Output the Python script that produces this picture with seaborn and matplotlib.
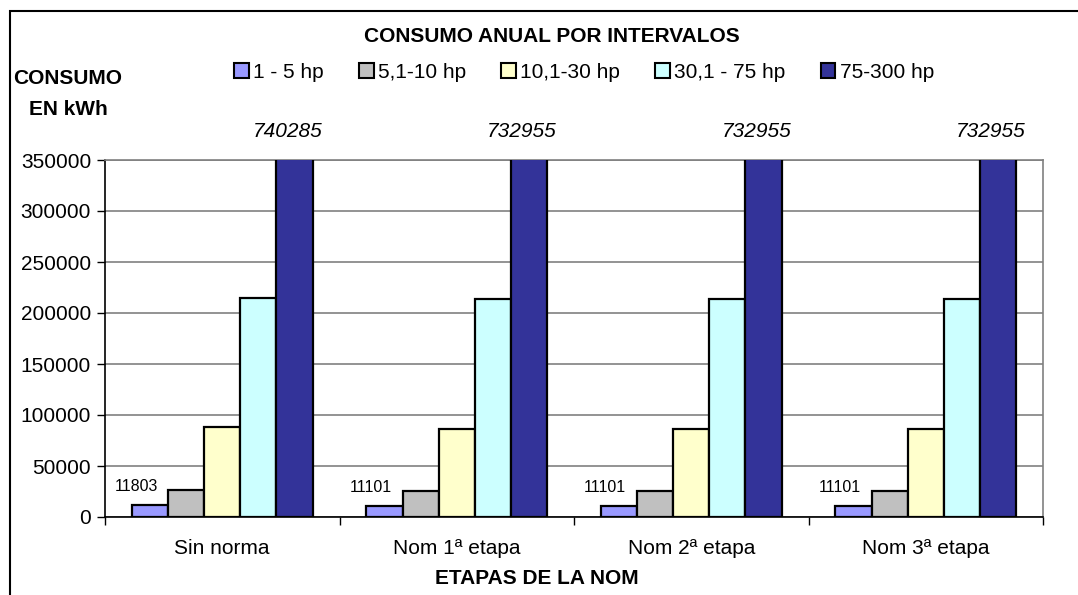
import matplotlib
matplotlib.use("Agg")
import matplotlib.pyplot as plt
from matplotlib.patches import Rectangle
import seaborn as sns
import pandas as pd

# Annual consumption (kWh) by motor power interval and NOM stage
etapas = ["Sin norma", "Nom 1ª etapa", "Nom 2ª etapa", "Nom 3ª etapa"]
intervalos = ["1 - 5 hp", "5,1-10 hp", "10,1-30 hp", "30,1 - 75 hp", "75-300 hp"]
hp_1_5 = [11803, 11101, 11101, 11101]
hp_5_10 = [26600, 25600, 25600, 25600]
hp_10_30 = [88300, 86400, 86400, 86400]
hp_30_75 = [214500, 213700, 213700, 213700]
hp_75_300 = [740285, 732955, 732955, 732955]
colores = ["#9999FF", "#C0C0C0", "#FFFFCC", "#CCFFFF", "#333399"]

series = [hp_1_5, hp_5_10, hp_10_30, hp_30_75, hp_75_300]
rows = []
for nombre, vals in zip(intervalos, series):
    for et, v in zip(etapas, vals):
        rows.append({"etapa": et, "intervalo": nombre, "valor": v})
df = pd.DataFrame(rows)

sns.set_style("white")
plt.rcParams["font.family"] = ["Liberation Sans", "DejaVu Sans"]
plt.rcParams["text.color"] = "black"
plt.rcParams["xtick.color"] = "black"
plt.rcParams["ytick.color"] = "black"

W, H = 1078, 595
fig = plt.figure(figsize=(W / 100, H / 100), dpi=100)
ax = fig.add_axes([105 / W, 1 - 517 / H, (1043 - 105) / W, (517 - 160) / H])

sns.barplot(data=df, x="etapa", y="valor", hue="intervalo", order=etapas,
            hue_order=intervalos, palette=colores, saturation=1, width=0.77,
            edgecolor="black", linewidth=1.6, ax=ax, legend=False, zorder=3)

ax.set_ylim(0, 350000)
ax.set_xlim(-0.5, len(etapas) - 0.5)
ax.set_yticks(range(0, 350001, 50000))
ax.set_yticklabels([str(v) for v in range(0, 350001, 50000)], fontsize=15)
ax.yaxis.grid(True, color="#808080", linewidth=1.2, zorder=0)
ax.set_axisbelow(True)
ax.tick_params(axis="y", left=True, length=6, width=1, color="black", pad=4)

# category labels between boundary ticks
ax.set_xticks([i - 0.5 for i in range(len(etapas) + 1)], minor=False)
ax.set_xticklabels([])
ax.tick_params(axis="x", bottom=True, length=6, width=1, color="black")
ax.set_xticks(range(len(etapas)), minor=True)
ax.set_xticklabels(etapas, minor=True, fontsize=15)
ax.tick_params(axis="x", which="minor", length=0, pad=16)
ax.set_xlabel("")
ax.set_ylabel("")

for side in ["top", "right"]:
    ax.spines[side].set_color("#808080")
    ax.spines[side].set_linewidth(1.2)
for side in ["left", "bottom"]:
    ax.spines[side].set_color("black")
    ax.spines[side].set_linewidth(1.2)

# value labels
small = ax.containers[0]
for bar, v in zip(small, hp_1_5):
    x = bar.get_x() + bar.get_width() / 2
    ax.annotate(str(v), (x, v), xytext=(-10, 8), textcoords="offset points",
                ha="center", va="bottom", fontsize=11.5)
big = ax.containers[4]
for bar, v in zip(big, hp_75_300):
    x = bar.get_x() + bar.get_width() / 2
    ax.annotate(str(v), (x, 350000), xytext=(-5, 14), textcoords="offset points",
                ha="center", va="bottom", fontsize=15, style="italic",
                annotation_clip=False)

# legend
handles = [Rectangle((0, 0), 1, 1, facecolor=c, edgecolor="black", linewidth=1.5)
           for c in colores]
fig.legend(handles, intervalos, loc="center", bbox_to_anchor=(584 / W, 1 - 72 / H),
           ncol=5, frameon=False, fontsize=15, handlelength=0.7, handleheight=0.7,
           handletextpad=0.2, columnspacing=1.7)

fig.text(552 / W, 1 - 37 / H, "CONSUMO ANUAL POR INTERVALOS", ha="center",
         va="center", fontsize=15, fontweight="bold")
fig.text(68 / W, 1 - 94 / H, "CONSUMO\nEN kWh", ha="center", va="center",
         fontsize=15, fontweight="bold", linespacing=1.75)
fig.text(537 / W, 1 - 578 / H, "ETAPAS DE LA NOM", ha="center", va="center",
         fontsize=15, fontweight="bold")

# outer chart frame
fig.patches.append(Rectangle((10 / W, -0.1), 1.2, 1 - 11 / H + 0.1,
                             transform=fig.transFigure, fill=False,
                             edgecolor="black", linewidth=1.5))

fig.savefig("out.png", dpi=100)
